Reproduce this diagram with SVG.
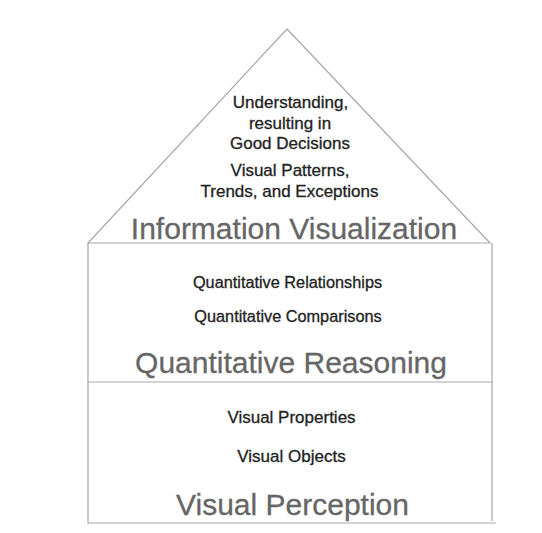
<svg xmlns="http://www.w3.org/2000/svg" width="542" height="533" viewBox="0 0 542 533">
<style>
.edge{fill:none;stroke:#a8a8a8;stroke-width:1.2}
.sm{font-family:"Liberation Sans",Arial,sans-serif;fill:#222222;stroke:#222222;stroke-width:0.3;text-anchor:middle;font-size:17px}
.lg{font-family:"Liberation Sans",Arial,sans-serif;fill:#666666;stroke:#666666;stroke-width:0.3;text-anchor:middle;font-size:30px}
</style>
<rect width="542" height="533" fill="#ffffff"/>
<g id="info-visualization">
<path class="edge" d="M88,243 L287,29 L490,243 Z"/>
<text class="sm" x="290.5" y="108">Understanding,</text>
<text class="sm" x="290" y="129">resulting in</text>
<text class="sm" x="290" y="149">Good Decisions</text>
<text class="sm" x="290" y="176">Visual Patterns,</text>
<text class="sm" x="289.5" y="197">Trends, and Exceptions</text>
<text class="lg" x="294" y="239">Information Visualization</text>
</g>
<g id="quantitative-reasoning">
<path class="edge" d="M88,243 V382 H492 V243"/>
<text class="sm" x="287.5" y="288" style="font-size:16.3px">Quantitative Relationships</text>
<text class="sm" x="288" y="322" style="font-size:16.3px">Quantitative Comparisons</text>
<text class="lg" x="291" y="373">Quantitative Reasoning</text>
</g>
<g id="visual-perception">
<path class="edge" d="M88,382 V523 H496 M492,382 V521"/>
<text class="sm" x="291.5" y="423">Visual Properties</text>
<text class="sm" x="291.5" y="462">Visual Objects</text>
<text class="lg" x="292.5" y="515">Visual Perception</text>
</g>
<g id="connectors"></g>
</svg>
